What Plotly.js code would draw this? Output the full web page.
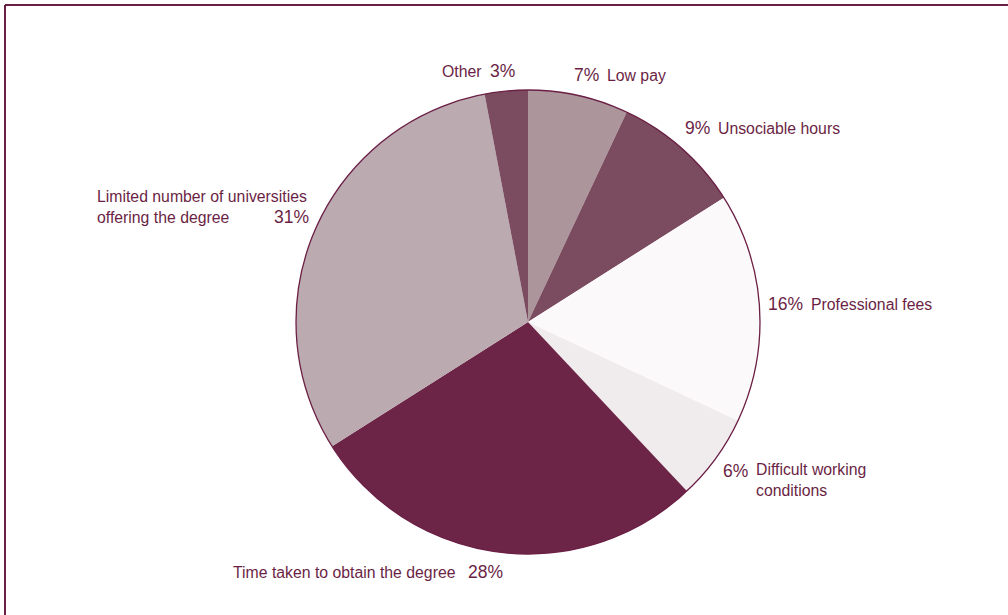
<!DOCTYPE html>
<html>
<head>
<meta charset="utf-8">
<script src="https://cdn.plot.ly/plotly-3.0.1.min.js"></script>
<style>html,body{margin:0;padding:0;background:#fff;}#chart{width:1008px;height:615px;}</style>
</head>
<body>
<div id="chart"></div>
<script>
// Data
const categories = ["Low pay", "Unsociable hours", "Professional fees", "Difficult working conditions", "Time taken to obtain the degree", "Limited number of universities offering the degree", "Other"];
const values = [7, 9, 16, 6, 28, 31, 3];
const percentLabels = ["7%", "9%", "16%", "6%", "28%", "31%", "3%"];
const nameLabels = ["Low pay", "Unsociable hours", "Professional fees", "Difficult working<br>conditions", "Time taken to obtain the degree", "Limited number of universities<br>offering the degree", "Other"];
const sliceColors = ["#AC969B", "#7B4C60", "#FCF9FA", "#F0ECED", "#6C2447", "#BBAAB0", "#7B4C60"];

const W = 1008, H = 615;
const textColor = "#6B1F45";
const nameFont = {family: "Liberation Sans, Arial, sans-serif", size: 15.8, color: textColor};
const pctFont = {family: "Liberation Sans, Arial, sans-serif", size: 17.5, color: textColor};

const dom = {x: [296 / W, 760 / W], y: [1 - 554 / H, 1 - 90 / H]};

const pie = {
  type: "pie",
  labels: categories,
  values: values,
  sort: false,
  direction: "clockwise",
  rotation: 0,
  marker: {colors: sliceColors, line: {width: 0}},
  textinfo: "none",
  hoverinfo: "label+percent",
  showlegend: false,
  domain: dom
};
const outline = {
  type: "pie",
  labels: ["outline"],
  values: [1],
  marker: {colors: ["rgba(0,0,0,0)"], line: {color: textColor, width: 1.3}},
  textinfo: "none",
  hoverinfo: "skip",
  showlegend: false,
  domain: dom
};

// label layout positions (pixels: left x, center y) for percent and name
const pctPos = [[572, 75], [683, 128], [766, 304], [721, 471], [466, 572], [272, 217], [488, 71]];
const namePos = [[605, 75], [716, 128], [809, 304], [754, 480], [231, 572], [95, 207], [440, 71]];

const annotations = [];
for (let i = 0; i < categories.length; i++) {
  annotations.push({
    xref: "paper", yref: "paper", x: pctPos[i][0] / W, y: 1 - pctPos[i][1] / H,
    xanchor: "left", yanchor: "middle", text: percentLabels[i], showarrow: false, font: pctFont
  });
  annotations.push({
    xref: "paper", yref: "paper", x: namePos[i][0] / W, y: 1 - namePos[i][1] / H,
    xanchor: "left", yanchor: "middle", align: "left", text: nameLabels[i], showarrow: false, font: nameFont
  });
}

const layout = {
  width: W, height: H,
  margin: {l: 0, r: 0, t: 0, b: 0},
  paper_bgcolor: "#ffffff",
  showlegend: false,
  annotations: annotations,
  shapes: [
    {type: "line", xref: "paper", yref: "paper", x0: 5 / W, x1: 1, y0: 1 - 5 / H, y1: 1 - 5 / H, line: {color: textColor, width: 2}},
    {type: "line", xref: "paper", yref: "paper", x0: 5 / W, x1: 5 / W, y0: 0, y1: 1 - 5 / H, line: {color: textColor, width: 2}}
  ]
};

Plotly.newPlot("chart", [pie, outline], layout, {displayModeBar: false});
</script>
</body>
</html>
